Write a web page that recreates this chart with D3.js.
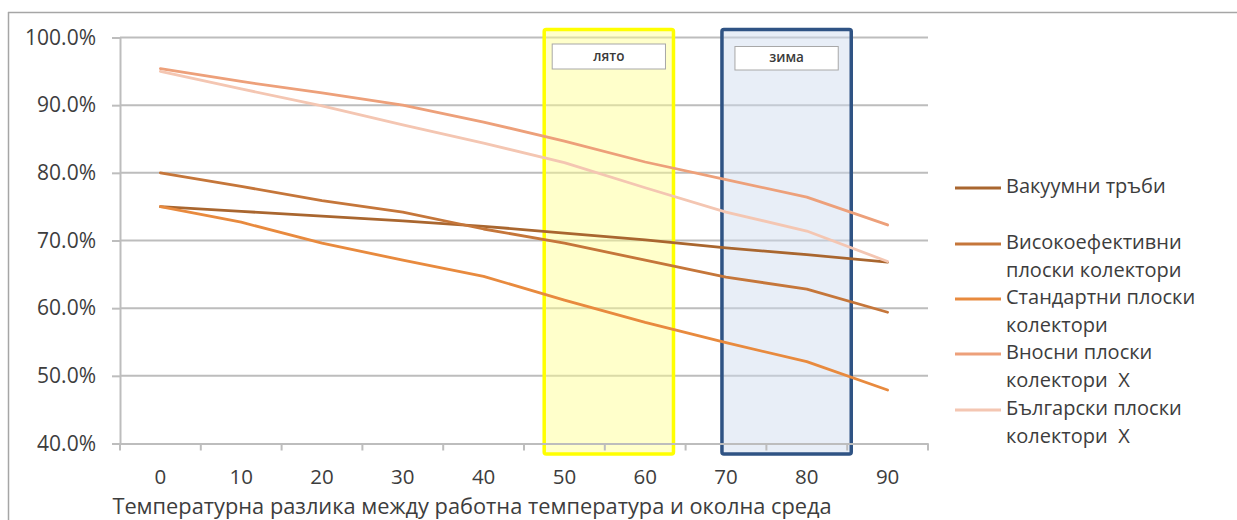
<!DOCTYPE html>
<html>
<head>
<meta charset="utf-8">
<script src="https://cdn.jsdelivr.net/npm/d3@7"></script>
<style>
  html, body { margin: 0; padding: 0; background: #ffffff; }
  svg { display: block; font-family: "Open Sans", Lato, sans-serif; }
  text { white-space: pre; }
</style>
</head>
<body>
<svg id="chart" width="1237" height="520"></svg>
<script>
// ---------- data ----------
const categories = ["0", "10", "20", "30", "40", "50", "60", "70", "80", "90"];
const seriesNames = [
  ["Вакуумни тръби"],
  ["Високоефективни", "плоски колектори"],
  ["Стандартни плоски", "колектори"],
  ["Вносни плоски", "колектори  X"],
  ["Български плоски", "колектори  X"]
];
const vacuumTubes   = [0.750, 0.743, 0.736, 0.729, 0.721, 0.711, 0.701, 0.689, 0.679, 0.668];
const highEffFlat   = [0.800, 0.780, 0.759, 0.742, 0.717, 0.696, 0.671, 0.646, 0.628, 0.594];
const standardFlat  = [0.750, 0.727, 0.696, 0.671, 0.647, 0.612, 0.579, 0.549, 0.521, 0.479];
const importedFlat  = [0.954, 0.935, 0.918, 0.900, 0.875, 0.847, 0.816, 0.790, 0.764, 0.723];
const bulgarianFlat = [0.950, 0.924, 0.899, 0.871, 0.844, 0.815, 0.778, 0.742, 0.714, 0.669];
const seriesValues = [vacuumTubes, highEffFlat, standardFlat, importedFlat, bulgarianFlat];
const seriesColors = ["#a9662f", "#c5763a", "#e88a3e", "#eda07a", "#f4c6b2"];
const yTicks = [0.4, 0.5, 0.6, 0.7, 0.8, 0.9, 1.0];
const seasonNames = ["лято", "зима"];
const seasonFrom  = [47.5, 69.5];
const seasonTo    = [63.5, 85.5];
const seasonStroke = ["#ffff00", "#2f5384"];
const seasonFill   = ["rgba(255,255,140,0.45)", "rgba(205,218,238,0.45)"];
const xTitle = "Температурна разлика между работна температура и околна среда";

// ---------- layout ----------
const svg = d3.select("#chart");
const plotL = 120, plotR = 928, plotT = 37.5, plotB = 443.5;

const x = d3.scaleBand().domain(categories).range([plotL, plotR]).padding(0);
const xVal = d3.scaleLinear().domain([-5, 95]).range([plotL, plotR]);
const y = d3.scaleLinear().domain([0.4, 1.0]).range([plotB, plotT]);

// outer frame (sheet border)
svg.append("line").attr("x1", 8).attr("x2", 1237).attr("y1", 12.5).attr("y2", 12.5)
  .attr("stroke", "#a6a6a6").attr("stroke-width", 1.5);
svg.append("line").attr("x1", 8.5).attr("x2", 8.5).attr("y1", 12).attr("y2", 520)
  .attr("stroke", "#a6a6a6").attr("stroke-width", 1.5);

// gridlines
svg.append("g").selectAll("line").data(yTicks.slice(1)).join("line")
  .attr("x1", plotL).attr("x2", plotR)
  .attr("y1", d => y(d)).attr("y2", d => y(d))
  .attr("stroke", "#bdbdbd").attr("stroke-width", 2);

// season boxes
const seasons = seasonNames.map((n, i) => ({ name: n, from: seasonFrom[i], to: seasonTo[i], stroke: seasonStroke[i], fill: seasonFill[i] }));
const boxTop = plotT - 8, boxBot = plotB + 10.5;
const sg = svg.append("g");
sg.selectAll("rect.fill").data(seasons).join("rect").attr("class", "fill")
  .attr("x", d => xVal(d.from)).attr("width", d => xVal(d.to) - xVal(d.from))
  .attr("y", boxTop).attr("height", boxBot - boxTop)
  .attr("fill", d => d.fill);

// axes
const yAxis = d3.axisLeft(y).tickValues(yTicks).tickFormat(d3.format(".1%")).tickSize(8).tickSizeOuter(0);
const gy = svg.append("g").attr("transform", `translate(${plotL},0)`).call(yAxis);
gy.select(".domain").attr("stroke", "#bdbdbd").attr("stroke-width", 2);
gy.selectAll(".tick line").attr("stroke", "#bdbdbd").attr("stroke-width", 2);
gy.selectAll(".tick text").attr("x", -24).attr("font-size", 21).attr("fill", "#3d3d3d")
  .attr("font-family", "'Open Sans', sans-serif");

const xAxis = d3.axisBottom(x).tickSize(0).tickSizeOuter(0);
const gx = svg.append("g").attr("transform", `translate(0,${plotB})`).call(xAxis);
gx.select(".domain").attr("stroke", "#bdbdbd").attr("stroke-width", 2);
gx.selectAll(".tick text").attr("y", 33.5).attr("dy", "0.32em").attr("font-size", 20.5).attr("fill", "#3d3d3d")
  .attr("font-family", "'Open Sans', sans-serif");
// boundary tick marks between categories
const bounds = categories.map(c => x(c)).concat([plotR]);
gx.selectAll("line.bt").data(bounds).join("line").attr("class", "bt")
  .attr("x1", d => d).attr("x2", d => d).attr("y1", 0).attr("y2", 7)
  .attr("stroke", "#bdbdbd").attr("stroke-width", 2);

// x title
svg.append("text").attr("x", 472).attr("y", 508).attr("text-anchor", "middle")
  .attr("dominant-baseline", "middle").attr("font-size", 21.8).attr("fill", "#3d3d3d")
  .text(xTitle);

// season box strokes and labels
sg.selectAll("rect.frame").data(seasons).join("rect").attr("class", "frame")
  .attr("x", d => xVal(d.from)).attr("width", d => xVal(d.to) - xVal(d.from))
  .attr("y", boxTop).attr("height", boxBot - boxTop)
  .attr("fill", "none").attr("rx", 2)
  .attr("stroke", d => d.stroke).attr("stroke-width", 3.5);
sg.selectAll("rect.lab").data(seasons).join("rect").attr("class", "lab")
  .attr("x", (d, i) => xVal(d.from) + (i === 0 ? 8 : 13))
  .attr("width", (d, i) => xVal(d.to) - xVal(d.from) - (i === 0 ? 16 : 26))
  .attr("y", (d, i) => i === 0 ? 44 : 46.5).attr("height", (d, i) => i === 0 ? 25 : 23.5)
  .attr("fill", "#ffffff").attr("stroke", "#a8a8a8").attr("stroke-width", 1);
sg.selectAll("text.lab").data(seasons).join("text").attr("class", "lab")
  .attr("x", d => (xVal(d.from) + xVal(d.to)) / 2).attr("y", (d, i) => i === 0 ? 57 : 58.5)
  .attr("text-anchor", "middle").attr("dominant-baseline", "middle")
  .attr("font-size", 13.5).attr("font-weight", 600).attr("fill", "#3a3a3a")
  .text(d => d.name);

// series lines
const line = d3.line().x((d, i) => x(categories[i]) + x.bandwidth() / 2).y(d => y(d));
svg.append("g").selectAll("path").data(seriesValues).join("path")
  .attr("d", d => line(d)).attr("fill", "none")
  .attr("stroke", (d, i) => seriesColors[i]).attr("stroke-width", 2.8)
  .attr("stroke-linejoin", "round").attr("stroke-linecap", "round");

// legend
const legY = [188, 244, 299, 354, 410];
const lg = svg.append("g");
seriesNames.forEach((lines, i) => {
  lg.append("line").attr("x1", 955).attr("x2", 1001).attr("y1", legY[i]).attr("y2", legY[i])
    .attr("stroke", seriesColors[i]).attr("stroke-width", 3);
  const t = lg.append("text").attr("x", 1006).attr("y", legY[i])
    .attr("dominant-baseline", "middle").attr("font-size", 20).attr("fill", "#3d3d3d");
  lines.forEach((s, k) => {
    t.append("tspan").attr("x", 1006).attr("dy", k === 0 ? 0 : 28).text(s);
  });
});
</script>
</body>
</html>
